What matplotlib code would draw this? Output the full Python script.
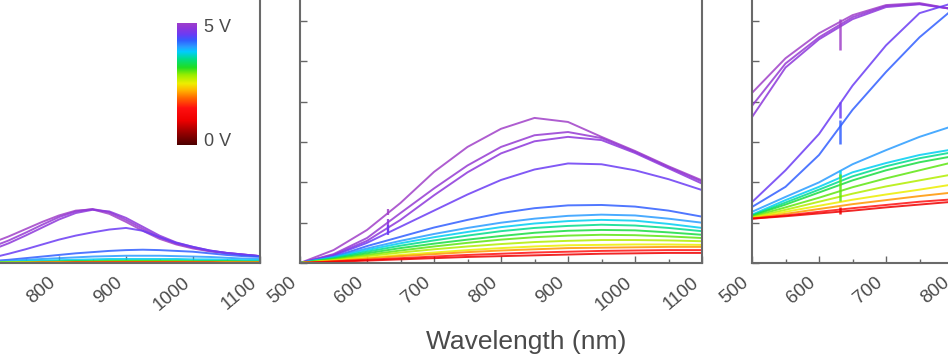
import numpy as np
import matplotlib
matplotlib.use('Agg')
import matplotlib.pyplot as plt
from matplotlib.colors import LinearSegmentedColormap
from matplotlib.ticker import MultipleLocator

plt.rcParams['font.family'] = ['Liberation Sans', 'DejaVu Sans']

# ---------------- data ----------------
voltages = [5.0, 4.85, 4.75, 4.5, 4.25, 4.0, 3.75, 3.5, 3.25, 3.0, 2.75, 2.5, 2.1, 1.5, 1.0]
v_min, v_max = 0.0, 5.0

left_wl = [700, 725, 750, 775, 800, 825, 850, 875, 900, 925, 950, 975, 1000, 1025, 1050, 1075, 1100]
left_curves = [
    [0.50, 0.66, 0.84, 1.02, 1.18, 1.30, 1.33, 1.22, 1.02, 0.80, 0.60, 0.46, 0.36, 0.29, 0.24, 0.20, 0.17],
    [0.40, 0.56, 0.75, 0.95, 1.14, 1.28, 1.34, 1.26, 1.07, 0.85, 0.64, 0.48, 0.38, 0.30, 0.25, 0.21, 0.17],
    [0.33, 0.49, 0.68, 0.88, 1.08, 1.24, 1.32, 1.28, 1.12, 0.90, 0.68, 0.51, 0.40, 0.31, 0.25, 0.21, 0.17],
    [0.13, 0.23, 0.34, 0.46, 0.58, 0.68, 0.76, 0.83, 0.87, 0.80, 0.64, 0.50, 0.40, 0.31, 0.25, 0.21, 0.17],
    [0.05, 0.08, 0.12, 0.16, 0.20, 0.24, 0.27, 0.30, 0.32, 0.33, 0.32, 0.30, 0.28, 0.24, 0.20, 0.17, 0.15],
    [0.03, 0.05, 0.08, 0.10, 0.12, 0.14, 0.16, 0.17, 0.18, 0.18, 0.18, 0.17, 0.16, 0.15, 0.13, 0.11, 0.10],
    [0.02, 0.03, 0.05, 0.06, 0.07, 0.08, 0.09, 0.10, 0.10, 0.10, 0.10, 0.10, 0.09, 0.09, 0.08, 0.07, 0.07],
    [0.01, 0.02, 0.03, 0.03, 0.04, 0.05, 0.05, 0.06, 0.06, 0.06, 0.06, 0.06, 0.05, 0.05, 0.05, 0.04, 0.04],
    [0.01, 0.02, 0.02, 0.03, 0.03, 0.04, 0.04, 0.04, 0.05, 0.05, 0.05, 0.04, 0.04, 0.04, 0.04, 0.03, 0.03],
    [0.01, 0.01, 0.02, 0.02, 0.03, 0.03, 0.03, 0.04, 0.04, 0.04, 0.04, 0.04, 0.03, 0.03, 0.03, 0.03, 0.02],
    [0.01, 0.01, 0.01, 0.02, 0.02, 0.02, 0.03, 0.03, 0.03, 0.03, 0.03, 0.03, 0.03, 0.02, 0.02, 0.02, 0.02],
    [0.00, 0.01, 0.01, 0.01, 0.02, 0.02, 0.02, 0.02, 0.02, 0.02, 0.02, 0.02, 0.02, 0.02, 0.02, 0.01, 0.01],
    [0.00, 0.00, 0.01, 0.01, 0.01, 0.01, 0.01, 0.02, 0.02, 0.02, 0.02, 0.02, 0.01, 0.01, 0.01, 0.01, 0.01],
    [0.00, 0.00, 0.00, 0.01, 0.01, 0.01, 0.01, 0.01, 0.01, 0.01, 0.01, 0.01, 0.01, 0.01, 0.01, 0.01, 0.01],
    [0.00, 0.00, 0.00, 0.00, 0.00, 0.01, 0.01, 0.01, 0.01, 0.01, 0.01, 0.01, 0.01, 0.01, 0.00, 0.00, 0.00],
]

mid_wl = [500, 550, 600, 650, 700, 750, 800, 850, 900, 950, 1000, 1050, 1100]
mid_curves = [
    [0.0, 0.32, 0.82, 1.49, 2.26, 2.88, 3.33, 3.60, 3.50, 3.13, 2.78, 2.40, 2.05],
    [0.0, 0.22, 0.62, 1.24, 1.85, 2.42, 2.88, 3.17, 3.25, 3.10, 2.76, 2.38, 2.02],
    [0.0, 0.20, 0.55, 1.07, 1.68, 2.25, 2.72, 3.02, 3.13, 3.05, 2.73, 2.35, 1.97],
    [0.0, 0.18, 0.50, 0.90, 1.30, 1.70, 2.06, 2.32, 2.47, 2.45, 2.30, 2.08, 1.81],
    [0.0, 0.15, 0.42, 0.65, 0.88, 1.07, 1.24, 1.36, 1.43, 1.44, 1.40, 1.30, 1.15],
    [0.0, 0.15, 0.36, 0.55, 0.72, 0.87, 1.00, 1.10, 1.17, 1.20, 1.18, 1.10, 1.00],
    [0.0, 0.13, 0.32, 0.49, 0.64, 0.77, 0.89, 0.98, 1.04, 1.07, 1.05, 0.97, 0.87],
    [0.0, 0.12, 0.28, 0.43, 0.56, 0.68, 0.79, 0.87, 0.92, 0.95, 0.93, 0.87, 0.79],
    [0.0, 0.10, 0.24, 0.37, 0.48, 0.58, 0.67, 0.75, 0.80, 0.82, 0.81, 0.76, 0.70],
    [0.0, 0.09, 0.20, 0.31, 0.41, 0.50, 0.58, 0.64, 0.68, 0.70, 0.69, 0.66, 0.62],
    [0.0, 0.07, 0.17, 0.26, 0.34, 0.41, 0.47, 0.52, 0.55, 0.57, 0.57, 0.56, 0.54],
    [0.0, 0.06, 0.13, 0.20, 0.26, 0.32, 0.37, 0.41, 0.44, 0.45, 0.46, 0.46, 0.45],
    [0.0, 0.05, 0.11, 0.17, 0.22, 0.27, 0.31, 0.34, 0.37, 0.38, 0.39, 0.40, 0.40],
    [0.0, 0.04, 0.08, 0.12, 0.16, 0.20, 0.23, 0.26, 0.28, 0.30, 0.31, 0.32, 0.32],
    [0.0, 0.03, 0.06, 0.09, 0.12, 0.15, 0.17, 0.19, 0.21, 0.23, 0.24, 0.25, 0.25],
]

right_wl = [500, 550, 600, 650, 700, 750, 800]
right_curves = [
    [4.22, 5.08, 5.70, 6.15, 6.40, 6.45, 6.30],
    [3.90, 4.95, 5.60, 6.10, 6.38, 6.43, 6.30],
    [3.62, 4.85, 5.55, 6.05, 6.35, 6.42, 6.30],
    [1.51, 2.30, 3.20, 4.40, 5.40, 6.20, 6.45],
    [1.39, 1.89, 2.68, 3.80, 4.74, 5.60, 6.30],
    [1.27, 1.64, 2.00, 2.45, 2.80, 3.13, 3.40],
    [1.20, 1.56, 1.89, 2.25, 2.48, 2.68, 2.82],
    [1.18, 1.50, 1.82, 2.15, 2.40, 2.60, 2.75],
    [1.17, 1.45, 1.75, 2.05, 2.30, 2.50, 2.65],
    [1.15, 1.38, 1.62, 1.88, 2.10, 2.30, 2.50],
    [1.13, 1.32, 1.52, 1.72, 1.90, 2.05, 2.20],
    [1.12, 1.27, 1.42, 1.57, 1.70, 1.82, 1.95],
    [1.11, 1.22, 1.34, 1.46, 1.56, 1.66, 1.75],
    [1.10, 1.18, 1.27, 1.36, 1.44, 1.52, 1.58],
    [1.10, 1.16, 1.23, 1.30, 1.38, 1.45, 1.52],
]

# artefact spikes at ~632 nm
spike_wl = 632
mid_spike_curve = [0, 2, 3]
mid_spike_top = [1.35, 1.10, 0.95]
mid_spike_bottom = [1.20, 0.75, 0.70]
right_spike_curve = [0, 3, 4, 6, 9, 14]
right_spike_top = [6.05, 4.00, 3.55, 2.30, 2.20, 1.40]
right_spike_bottom = [5.28, 3.60, 2.95, 2.10, 1.55, 1.22]

x_ticks = [500, 600, 700, 800, 900, 1000, 1100]
x_tick_labels = ['500', '600', '700', '800', '900', '1000', '1100']
cbar_labels = ['5 V', '0 V']
xlabel = 'Wavelength (nm)'

# ---------------- style ----------------
cmap = LinearSegmentedColormap.from_list('volt', [
    (0.00, '#4d0000'), (0.10, '#990000'), (0.20, '#ee0000'), (0.30, '#ff1010'),
    (0.38, '#ff6600'), (0.45, '#ffbb00'), (0.50, '#eeee00'), (0.57, '#99ee00'),
    (0.63, '#22dd22'), (0.70, '#00dd88'), (0.76, '#00ccff'), (0.80, '#2a9cff'),
    (0.85, '#3060ff'), (0.90, '#6a3cf5'), (0.95, '#8c36dc'), (1.00, '#a040c8')])

W, H = 948, 356
fig = plt.figure(figsize=(W / 100, H / 100), dpi=100)

gray = '#4a4a4a'
bottom_px, unit_px = 263, 40.3
y_top = 7.0
ax_h = y_top * unit_px
bottom = (H - bottom_px) / H
height = ax_h / H
width = 402 / W
lefts_px = [-142, 300, 752]

panels = [(left_wl, left_curves), (mid_wl, mid_curves), (right_wl, right_curves)]
axes = []
for lp, (wl, curves) in zip(lefts_px, panels):
    ax = fig.add_axes([lp / W, bottom, width, height])
    for v, ys in zip(voltages, curves):
        ax.plot(wl, ys, color=cmap((v - v_min) / (v_max - v_min)), lw=1.4, alpha=0.85,
                solid_joinstyle='round')
    ax.set_xlim(500, 1100)
    ax.set_ylim(0, y_top)
    ax.set_xticks(x_ticks)
    ax.set_xticklabels(x_tick_labels, rotation=40, ha='right', va='top',
                       fontsize=13.5, color=gray)
    ax.xaxis.set_minor_locator(MultipleLocator(50))
    ax.yaxis.set_major_locator(MultipleLocator(1))
    ax.set_yticklabels([])
    ax.tick_params(axis='both', which='major', direction='in', length=5, width=1.0,
                   color='#666666', pad=8)
    ax.tick_params(axis='both', which='minor', direction='in', length=3, width=1.0,
                   color='#666666')
    ax.tick_params(axis='y', left=True, right=False)
    for s in ax.spines.values():
        s.set_color('#6a6a6a')
        s.set_linewidth(1.5)
    axes.append(ax)

for ci, t, b in zip(mid_spike_curve, mid_spike_top, mid_spike_bottom):
    axes[1].vlines(spike_wl, b, t, color=cmap(voltages[ci] / v_max), lw=1.6, alpha=0.85)
for ci, t, b in zip(right_spike_curve, right_spike_top, right_spike_bottom):
    axes[2].vlines(spike_wl, b, t, color=cmap(voltages[ci] / v_max), lw=1.8, alpha=0.85)

# hide tick labels that fall entirely outside the visible canvas
fig.canvas.draw()
renderer = fig.canvas.get_renderer()
for ax in axes:
    for lab in ax.get_xticklabels():
        bb = lab.get_window_extent(renderer)
        if bb.x1 <= 0 or bb.x0 >= W:
            lab.set_visible(False)

# colour bar legend
cax = fig.add_axes([177 / W, 1 - 145 / H, 20 / W, 122 / H])
grad = np.linspace(1, 0, 256).reshape(-1, 1)
cax.imshow(grad, aspect='auto', cmap=cmap, vmin=0, vmax=1)
cax.set_axis_off()
fig.text(204 / W, 1 - 28 / H, cbar_labels[0], fontsize=13, color=gray, va='center', ha='left')
fig.text(204 / W, 1 - 141 / H, cbar_labels[1], fontsize=13, color=gray, va='center', ha='left')

fig.text(526 / W, 1 - 349 / H, xlabel, fontsize=19, color=gray, ha='center', va='baseline')

fig.savefig('out.png', dpi=100)
